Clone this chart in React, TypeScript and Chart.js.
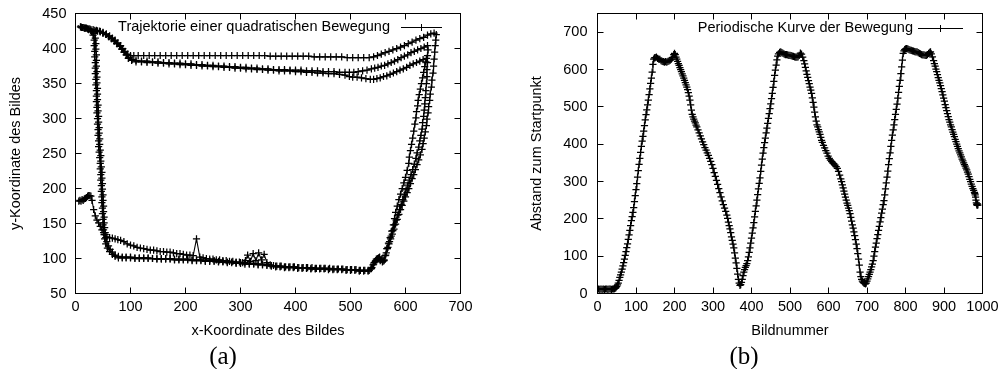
import React, { useEffect, useRef } from 'react';
import { Chart, registerables } from 'chart.js';

Chart.register(...registerables);

const FONT_FAMILY = '"Liberation Sans", Arial, Helvetica, sans-serif';
const FONT_SIZE = 14.5;
const TICK_LEN = 6;

// ---------- Panel (a): trajectory (x, y) ----------
const trajXTicks = [0, 100, 200, 300, 400, 500, 600, 700];
const trajYTicks = [50, 100, 150, 200, 250, 300, 350, 400, 450];

const trajStub: [number, number][] = [
  [6,182],[8,183],[10,182],[12,184],[14,183],[16,185],[18,186],[20,187],[22,189],[24,190],[26,190],[28,189],
  [30,183],[33,170],[36,161],[39,155],[42,151],[45,146],[48,141],[51,137],[54,134],
];

const trajLoop1: [number, number][] = [
  [57,131],[62,130],[67,129],[72,128],[77,127],[82,126],[88,124],[94,121],[100,119],[106,118],[112,116],[118,115],
  [124,114],[130,113],[136,112],[142,112],[148,111],[154,110],[160,110],[166,109],[172,109],[178,108],[184,107],
  [190,107],[196,106],[202,105],[208,105],[214,104],[220,128],[226,102],[232,101],[238,100],[244,99],[250,99],
  [256,98],[262,98],[268,97],[274,97],[280,96],[286,96],[292,95],[298,95],[304,94],[309,97],[313,105],[318,96],
  [323,107],[328,97],[333,108],[338,98],[343,106],[348,94],[354,91],[360,90],[366,89],[374,89],[382,88],[390,88],
  [398,88],[406,87],[414,87],[422,87],[430,87],[438,86],[446,86],[454,86],[462,86],[470,85],[478,85],[486,85],
  [494,84],[502,84],[510,84],[518,83],[526,83],[534,83],[539,87],[543,94],[547,99],[551,101],[555,98],[559,96],
  [563,104],[566,114],[569,122],[572,130],[575,139],[578,148],[580,157],[582,166],[585,175],[588,184],[591,192],
  [594,200],[597,208],[600,216],[603,226],[606,236],[607,245],[609,254],[611,263],[613,272],[615,282],[617,292],
  [619,301],[620,310],[622,318],[623,326],[625,334],[627,342],[629,350],[631,358],[633,366],[635,374],[637,381],
  [638,386],[632,384],[626,382],[620,380],[614,378],[608,376],[602,373],[596,371],[590,369],[584,367],[578,365],
  [572,363],[566,361],[560,360],[554,358],[548,357],[542,356],[536,356],[528,357],[520,358],[512,359],[504,359],
  [498,360],[490,362],[480,363],[470,364],[460,364],[450,365],[440,365],[430,366],[420,366],[410,367],[400,367],
  [390,368],[380,368],[370,368],[360,369],[350,369],[340,370],[330,370],[320,371],[310,371],[300,372],[290,372],
  [280,373],[270,373],[260,374],[250,374],[240,375],[230,375],[220,376],[210,376],[200,377],[190,377],[180,378],
  [170,378],[160,379],[150,379],[140,380],[130,380],[120,381],[110,381],[102,383],[96,386],[92,391],[88,395],
  [84,399],[80,403],[75,407],[70,411],[65,414],[60,417],[55,420],[50,422],[45,424],[40,425],[34,426],[28,427],
  [22,428],[16,429],[11,430],
];

const trajLoop2: [number, number][] = [
  [9,431],[13,430],[18,429],[24,427],[29,424],[32,419],[34,412],[34,404],[35,396],[35,388],[36,380],[36,372],
  [36,364],[37,356],[37,348],[38,340],[38,332],[38,324],[39,316],[39,308],[40,300],[40,292],[41,284],[41,276],
  [42,268],[42,260],[43,252],[44,244],[45,236],[45,228],[46,220],[46,212],[47,204],[47,196],[48,188],[48,180],
  [49,172],[49,164],[50,156],[50,148],[51,141],[52,134],[53,128],[55,121],[58,115],[62,110],[67,106],[72,103],
  [78,101],[85,101],[92,101],[100,101],[108,100],[116,100],[124,100],[132,100],[140,100],[148,99],[156,99],
  [164,99],[172,99],[180,98],[188,98],[196,98],[204,98],[212,97],[220,97],[228,97],[236,96],[244,96],[252,96],
  [260,95],[268,95],[276,94],[284,94],[292,93],[300,93],[308,92],[316,92],[324,92],[332,91],[340,91],[348,90],
  [356,89],[364,88],[372,88],[380,87],[388,87],[396,87],[404,86],[412,86],[420,86],[428,85],[436,85],[444,85],
  [452,85],[460,84],[468,84],[476,84],[484,84],[492,83],[500,83],[508,83],[516,82],[524,82],[532,82],[537,85],
  [541,91],[545,96],[549,100],[553,102],[557,99],[561,97],[564,105],[567,114],[570,121],[573,128],[576,135],
  [579,142],[582,149],[585,156],[588,163],[591,170],[594,176],[597,182],[600,188],[603,194],[606,200],[609,207],
  [612,214],[615,220],[618,227],[621,234],[624,241],[627,248],[630,256],[632,264],[634,272],[636,281],[638,290],
  [639,299],[641,308],[642,317],[644,326],[645,335],[647,345],[648,355],[650,365],[651,375],[652,385],[653,395],
  [654,404],[655,412],[656,420],[652,422],[646,421],[640,419],[633,416],[626,414],[619,412],[612,409],[605,407],
  [598,404],[591,402],[584,400],[577,398],[570,396],[563,394],[556,392],[549,390],[542,388],[534,387],[524,387],
  [514,387],[504,387],[494,387],[484,388],[474,388],[464,388],[454,388],[444,388],[434,388],[424,389],[414,389],
  [404,389],[394,389],[384,389],[374,389],[364,389],[354,389],[344,390],[334,390],[324,390],[314,390],[304,390],
  [294,390],[284,390],[274,390],[264,390],[254,390],[244,390],[234,390],[224,390],[214,390],[204,390],[194,390],
  [184,390],[174,390],[164,390],[154,390],[144,390],[134,390],[124,390],[114,390],[106,390],[100,390],[95,392],
  [90,396],[86,400],[82,404],[77,408],[72,412],[67,415],[62,418],[56,421],[50,423],[44,425],[38,426],[32,427],
  [26,428],[20,429],[14,430],[10,431],
];

const trajLoop3: [number, number][] = [
  [12,430],[17,429],[23,428],[28,426],[33,422],[36,415],[37,407],[37,399],[38,391],[38,383],[38,375],[39,367],
  [39,359],[39,351],[40,343],[40,335],[40,327],[41,319],[41,311],[42,303],[42,295],[43,287],[43,279],[44,271],
  [44,263],[45,255],[46,247],[46,239],[47,231],[48,223],[48,215],[49,207],[49,199],[50,191],[50,183],[51,175],
  [51,167],[52,159],[52,151],[53,144],[54,137],[55,130],[57,124],[60,118],[63,113],[67,109],[72,105],[78,103],
  [85,102],[92,102],[100,102],[108,101],[116,101],[124,101],[132,101],[140,100],[148,100],[156,100],[164,100],
  [172,100],[180,99],[188,99],[196,99],[204,99],[212,98],[220,98],[228,98],[236,97],[244,97],[252,97],[260,96],
  [268,96],[276,95],[284,95],[292,94],[300,94],[308,94],[316,93],[324,93],[332,92],[340,92],[348,91],[356,90],
  [364,89],[372,89],[380,88],[388,88],[396,88],[404,87],[412,87],[420,87],[428,86],[436,86],[444,86],[452,86],
  [460,85],[468,85],[476,85],[484,85],[492,84],[500,84],[508,84],[516,83],[524,83],[532,83],[538,86],[542,92],
  [546,97],[550,99],[554,97],[558,95],[561,98],[565,108],[568,116],[571,124],[574,132],[577,140],[580,148],
  [583,155],[586,162],[589,170],[592,177],[595,184],[598,191],[601,198],[604,205],[607,212],[610,220],[613,227],
  [616,235],[619,243],[621,251],[624,259],[626,268],[628,276],[630,285],[631,294],[633,303],[634,312],[635,321],
  [636,330],[637,340],[638,350],[639,360],[639,370],[640,380],[640,390],[641,398],[640,404],[634,402],[628,400],
  [622,398],[616,396],[610,394],[604,391],[598,389],[592,387],[586,384],[580,382],[574,380],[568,378],[562,376],
  [556,375],[550,373],[544,372],[538,371],[530,369],[522,368],[514,367],[506,366],[498,366],[490,366],[480,366],
  [470,367],[460,367],[450,367],[440,368],[430,368],[420,368],[410,369],[400,369],[390,369],[380,370],[370,370],
  [360,370],[350,371],[340,371],[330,372],[320,372],[310,373],[300,373],[290,374],[280,374],[270,375],[260,375],
  [250,376],[240,376],[230,377],[220,377],[210,378],[200,378],[190,379],[180,379],[170,380],[160,380],[150,381],
  [140,381],[130,382],[120,382],[110,383],[103,384],[97,387],[93,391],[89,395],[85,399],[81,403],[76,407],
  [71,411],[66,414],[61,417],[56,420],[50,422],[45,424],[40,425],[36,425],
];

// ---------- Panel (b): distance to start point vs frame number ----------
const frameTicks = [0, 100, 200, 300, 400, 500, 600, 700, 800, 900, 1000];
const distanceTicks = [0, 100, 200, 300, 400, 500, 600, 700];

const restPhase: [number, number][] = [
  [0,11],[3,12],[6,11],[9,12],[12,11],[15,12],[18,11],[21,12],[24,12],[27,11],[30,12],[33,12],[36,11],[39,12],
  [42,12],[44,13],[46,14],[48,16],
];

const cycle1: [number, number][] = [
  [50,19],[52,23],[54,28],[56,35],[58,43],[60,50],[62,57],[64,65],[66,74],[68,83],[70,92],[72,102],[74,112],
  [76,123],[78,133],[80,145],[82,157],[84,169],[86,182],[88,195],[90,206],[92,217],[94,230],[96,246],[98,262],
  [100,278],[102,294],[104,312],[106,329],[108,346],[110,362],[112,378],[114,394],[116,408],[118,421],[120,435],
  [122,450],[124,465],[126,479],[128,492],[130,505],[132,518],[134,533],[136,548],[138,563],[140,577],[142,593],
  [144,614],[146,628],[148,631],[150,632],[153,633],[156,630],[159,628],[162,627],[165,624],[168,622],[171,621],
  [174,620],[177,621],[180,620],[183,622],[186,623],[189,625],[192,628],[195,632],[198,640],[200,643],[202,640],
  [204,633],[206,628],[208,622],[210,616],[212,611],[214,605],[216,600],[218,594],[220,588],[222,583],[224,577],
  [226,571],[228,565],[230,559],[232,553],[234,546],[236,538],[238,529],[240,518],[242,505],[244,491],[246,480],
  [248,473],[250,467],[252,462],[254,457],[256,451],[258,446],[261,438],[264,430],[267,422],[270,414],[273,406],
  [276,399],[279,391],[282,384],[285,377],[288,370],[291,362],[294,354],[297,345],[300,335],[303,324],[306,314],
  [309,303],[312,292],[315,281],[318,270],[321,259],[324,248],[327,238],[330,229],[333,220],[336,210],[338,201],
  [340,191],[342,182],[344,173],[346,163],[348,152],[350,142],[352,132],[354,122],[356,109],[358,95],[360,82],
  [362,67],[364,52],[366,38],[368,28],[370,22],
];

const cycle2: [number, number][] = [
  [372,24],[374,30],[376,38],[378,48],[380,57],[382,64],[384,70],[386,75],[388,80],[390,88],[392,98],[394,110],
  [396,122],[398,135],[400,148],[402,162],[404,176],[406,190],[408,205],[410,220],[412,235],[414,250],[416,265],
  [418,280],[420,295],[422,310],[424,327],[426,344],[428,360],[430,376],[432,391],[434,404],[436,416],[438,430],
  [440,443],[442,456],[444,469],[446,482],[448,495],[450,508],[452,522],[454,536],[456,552],[458,568],[460,584],
  [462,598],[464,612],[466,626],[468,636],[470,642],[473,646],[476,647],[479,645],[482,643],[485,641],[488,640],
  [491,640],[494,639],[497,638],[500,638],[503,637],[506,636],[509,635],[512,634],[515,633],[518,633],[521,634],
  [524,638],[527,644],[530,641],[533,633],[536,624],[538,615],[540,606],[542,596],[544,587],[546,579],[548,570],
  [550,562],[552,553],[554,545],[556,536],[558,524],[560,512],[562,499],[564,486],[566,473],[568,462],[570,452],
  [572,446],[574,439],[576,433],[578,426],[580,418],[582,410],[584,405],[587,397],[590,390],[593,383],[596,376],
  [599,368],[602,362],[605,357],[608,353],[611,350],[614,347],[617,344],[620,340],[623,335],[626,327],[629,317],
  [632,307],[634,300],[636,291],[638,283],[640,274],[642,266],[644,258],[646,250],[648,242],[650,236],[652,229],
  [654,222],[656,214],[658,204],[660,194],[662,184],[664,175],[666,165],[668,155],[670,144],[672,132],[674,120],
  [676,107],[678,92],[680,76],[682,57],[684,45],[686,38],[688,33],[690,30],[692,28],[694,27],[696,26],
];

const cycle3: [number, number][] = [
  [698,28],[700,33],[702,39],[704,45],[706,51],[708,57],[710,64],[712,71],[714,79],[716,88],[718,100],[720,112],
  [722,124],[724,135],[726,147],[728,158],[730,169],[732,180],[734,192],[736,203],[738,215],[740,226],[742,238],
  [744,249],[746,264],[748,280],[750,296],[752,312],[754,328],[756,345],[758,361],[760,377],[762,394],[764,410],
  [766,424],[768,438],[770,452],[772,466],[774,480],[776,493],[778,507],[780,523],[782,539],[784,555],[786,571],
  [788,589],[790,607],[792,625],[794,643],[796,650],[798,653],[800,655],[803,656],[806,655],[809,653],[812,652],
  [815,651],[818,650],[821,649],[824,648],[827,647],[830,647],[833,645],[836,643],[839,642],[842,640],[845,639],
  [848,639],[851,638],[854,638],[857,640],[860,643],[863,646],[865,647],[867,642],[870,634],[873,624],[875,616],
  [877,609],[879,601],[881,594],[883,586],[885,578],[887,571],[889,564],[891,557],[893,549],[895,541],[897,532],
  [899,523],[901,515],[903,506],[905,498],[907,490],[909,482],[911,474],[913,466],[915,459],[917,452],[919,446],
  [921,439],[923,432],[925,426],[927,420],[929,413],[931,407],[933,400],[935,394],[937,388],[939,382],[941,377],
  [943,371],[945,366],[947,360],[949,355],[951,350],[953,345],[955,341],[957,336],[959,331],[961,325],[963,320],
  [965,313],[967,306],[969,300],[971,293],[973,287],[975,281],[977,276],[979,271],[980,268],[981,264],[982,258],
  [983,250],[984,243],[985,239],[986,236],[987,240],[988,237],
];

// ---------- helpers ----------
type KeySpec = { text: string; textRight: number; lineFrom: number; lineTo: number; y: number };

const baseFont = { family: FONT_FAMILY, size: FONT_SIZE };

function toPoints(...segments: [number, number][][]) {
  const out: { x: number; y: number }[] = [];
  for (const seg of segments) for (const [x, y] of seg) out.push({ x, y });
  return out;
}

function makeFramePlugin(key: KeySpec) {
  return {
    id: 'gnuplotFrame',
    afterDraw(chart: any) {
      const { ctx, chartArea } = chart;
      const { left, right, top, bottom } = chartArea;
      const xs = chart.scales.x;
      const ys = chart.scales.y;
      ctx.save();
      ctx.strokeStyle = '#000';
      ctx.lineWidth = 1;
      ctx.beginPath();
      for (const t of xs.ticks) {
        const p = Math.floor(xs.getPixelForValue(t.value)) + 0.5;
        ctx.moveTo(p, bottom);
        ctx.lineTo(p, bottom - TICK_LEN);
        ctx.moveTo(p, top);
        ctx.lineTo(p, top + TICK_LEN);
      }
      for (const t of ys.ticks) {
        const p = Math.floor(ys.getPixelForValue(t.value)) + 0.5;
        ctx.moveTo(left, p);
        ctx.lineTo(left + TICK_LEN, p);
        ctx.moveTo(right, p);
        ctx.lineTo(right - TICK_LEN, p);
      }
      ctx.stroke();
      ctx.strokeRect(left, top, right - left, bottom - top);

      // key (gnuplot style: text, then line sample with a + marker)
      ctx.fillStyle = '#000';
      ctx.font = `${FONT_SIZE}px ${FONT_FAMILY}`;
      ctx.textAlign = 'right';
      ctx.textBaseline = 'middle';
      ctx.fillText(key.text, key.textRight, key.y);
      const ly = Math.floor(key.y) + 0.5;
      const mid = Math.floor((key.lineFrom + key.lineTo) / 2) + 0.5;
      ctx.beginPath();
      ctx.moveTo(key.lineFrom, ly);
      ctx.lineTo(key.lineTo, ly);
      ctx.moveTo(mid - 3.5, ly);
      ctx.lineTo(mid + 3.5, ly);
      ctx.moveTo(mid, ly - 3.5);
      ctx.lineTo(mid, ly + 3.5);
      ctx.stroke();
      ctx.restore();
    },
  };
}

function makeConfig(opts: {
  points: { x: number; y: number }[];
  xMin: number; xMax: number; xTicks: number[]; xTitle: string;
  yMin: number; yMax: number; yTicks: number[]; yTitle: string;
  yAxisWidth: number; yTickPad: number; yTitlePad: number; rightPad: number;
  key: KeySpec;
}): any {
  return {
    type: 'scatter',
    data: {
      datasets: [
        {
          data: opts.points,
          showLine: true,
          borderColor: '#000',
          backgroundColor: '#000',
          borderWidth: 1.1,
          pointStyle: 'cross',
          pointRadius: 3.6,
          pointHoverRadius: 3.6,
          pointBorderWidth: 1.25,
          pointBorderColor: '#000',
          tension: 0,
        },
      ],
    },
    options: {
      responsive: false,
      animation: false,
      devicePixelRatio: 1,
      events: [],
      layout: { padding: { left: 0, right: opts.rightPad, top: 13.5, bottom: 0 } },
      plugins: { legend: { display: false }, tooltip: { enabled: false }, title: { display: false } },
      scales: {
        x: {
          type: 'linear',
          min: opts.xMin,
          max: opts.xMax,
          afterBuildTicks: (s: any) => { s.ticks = opts.xTicks.map((v) => ({ value: v })); },
          afterFit: (s: any) => { s.height = 75.5; s.paddingLeft = 0; s.paddingRight = 0; },
          grid: { display: false, drawTicks: false },
          border: { display: false },
          ticks: { padding: 5, color: '#000', font: baseFont, maxRotation: 0, autoSkip: false, callback: (v: any) => String(v) },
          title: { display: true, text: opts.xTitle, color: '#000', font: baseFont, padding: { top: 0, bottom: 29 } },
        },
        y: {
          type: 'linear',
          min: opts.yMin,
          max: opts.yMax,
          afterBuildTicks: (s: any) => { s.ticks = opts.yTicks.map((v) => ({ value: v })); },
          afterFit: (s: any) => { s.width = opts.yAxisWidth; s.paddingTop = 0; s.paddingBottom = 0; },
          grid: { display: false, drawTicks: false },
          border: { display: false },
          ticks: { padding: opts.yTickPad, color: '#000', font: baseFont, autoSkip: false, callback: (v: any) => String(v) },
          title: { display: true, text: opts.yTitle, color: '#000', font: baseFont, padding: { top: opts.yTitlePad, bottom: 0 } },
        },
      },
    },
    plugins: [makeFramePlugin(opts.key)],
  };
}

const captionStyle = (cx: number): React.CSSProperties => ({
  position: 'absolute',
  left: cx,
  top: 355,
  transform: 'translate(-50%, -50%)',
  fontFamily: '"Liberation Serif", "DejaVu Serif", serif',
  fontSize: 25,
  lineHeight: 1,
  color: '#000',
  whiteSpace: 'nowrap',
});

export default function App() {
  const leftRef = useRef<HTMLCanvasElement>(null);
  const rightRef = useRef<HTMLCanvasElement>(null);

  useEffect(() => {
    const left = new Chart(
      leftRef.current as HTMLCanvasElement,
      makeConfig({
        points: toPoints(trajStub, trajLoop1, trajLoop2, trajLoop3),
        xMin: 0, xMax: 700, xTicks: trajXTicks, xTitle: 'x-Koordinate des Bildes',
        yMin: 50, yMax: 450, yTicks: trajYTicks, yTitle: 'y-Koordinate des Bildes',
        yAxisWidth: 75.5, yTickPad: 9, yTitlePad: 7, rightPad: 39.5,
        key: { text: 'Trajektorie einer quadratischen Bewegung', textRight: 390, lineFrom: 401, lineTo: 442, y: 27 },
      })
    );
    const right = new Chart(
      rightRef.current as HTMLCanvasElement,
      makeConfig({
        points: toPoints(restPhase, cycle1, cycle2, cycle3),
        xMin: 0, xMax: 1000, xTicks: frameTicks, xTitle: 'Bildnummer',
        yMin: 0, yMax: 750, yTicks: distanceTicks, yTitle: 'Abstand zum Startpunkt',
        yAxisWidth: 97.5, yTickPad: 10, yTitlePad: 28, rightPad: 17.5,
        key: { text: 'Periodische Kurve der Bewegung', textRight: 413, lineFrom: 418, lineTo: 463, y: 28 },
      })
    );
    return () => {
      left.destroy();
      right.destroy();
    };
  }, []);

  return (
    <div style={{ position: 'fixed', left: 0, top: 0, width: 1000, height: 369, background: '#fff', overflow: 'hidden' }}>
      <canvas ref={leftRef} width={500} height={369} style={{ position: 'absolute', left: 0, top: 0, width: 500, height: 369 }} />
      <canvas ref={rightRef} width={500} height={369} style={{ position: 'absolute', left: 500, top: 0, width: 500, height: 369 }} />
      <div style={captionStyle(223)}>(a)</div>
      <div style={captionStyle(744)}>(b)</div>
    </div>
  );
}
